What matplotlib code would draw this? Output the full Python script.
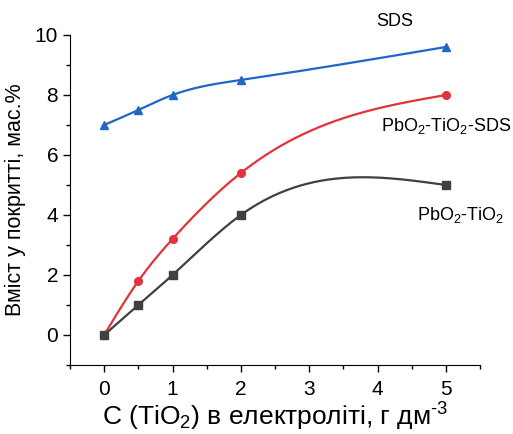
import numpy as np
import matplotlib
matplotlib.use('Agg')
import matplotlib.pyplot as plt
from matplotlib.ticker import MultipleLocator

plt.rcParams['font.family'] = ['Liberation Sans', 'DejaVu Sans']
plt.rcParams['mathtext.fontset'] = 'custom'
plt.rcParams['mathtext.rm'] = 'Liberation Sans'
plt.rcParams['mathtext.it'] = 'Liberation Sans'
plt.rcParams['mathtext.default'] = 'regular'

x = [0, 0.5, 1, 2, 5]
sds = [7.0, 7.5, 8.0, 8.5, 9.6]
pbo2_tio2_sds = [0.0, 1.8, 3.2, 5.4, 8.0]
pbo2_tio2 = [0.0, 1.0, 2.0, 4.0, 5.0]


def spline(xs, ys, n=200):
    # natural cubic spline, only used to draw the smooth connecting line
    xs = np.asarray(xs, float)
    ys = np.asarray(ys, float)
    k = len(xs)
    h = np.diff(xs)
    A = np.zeros((k, k))
    b = np.zeros(k)
    A[0, 0] = A[-1, -1] = 1
    for i in range(1, k - 1):
        A[i, i - 1] = h[i - 1]
        A[i, i] = 2 * (h[i - 1] + h[i])
        A[i, i + 1] = h[i]
        b[i] = 3 * ((ys[i + 1] - ys[i]) / h[i] - (ys[i] - ys[i - 1]) / h[i - 1])
    c = np.linalg.solve(A, b)
    xx = np.linspace(xs[0], xs[-1], n)
    idx = np.clip(np.searchsorted(xs, xx) - 1, 0, k - 2)
    dx = xx - xs[idx]
    bb = (ys[1:] - ys[:-1]) / h - h * (2 * c[:-1] + c[1:]) / 3
    dd = (c[1:] - c[:-1]) / (3 * h)
    yy = ys[idx] + bb[idx] * dx + c[idx] * dx ** 2 + dd[idx] * dx ** 3
    return xx, yy


fig = plt.figure(figsize=(5.13, 4.34), dpi=100)
ax = fig.add_axes([70 / 513, 1 - 365 / 434, 410 / 513, 330 / 434])

series = [
    (sds, '#2066c8', '^'),
    (pbo2_tio2_sds, '#e3323a', 'o'),
    (pbo2_tio2, '#404040', 's'),
]
for ys, col, mk in series:
    xx, yy = spline(x, ys)
    ax.plot(xx, yy, color=col, lw=1.6)
    ax.plot(x, ys, ls='none', marker=mk, color=col, ms=5.5)

ax.set_xlim(-0.5, 5.5)
ax.set_ylim(-1, 10)
ax.xaxis.set_major_locator(MultipleLocator(1))
ax.xaxis.set_minor_locator(MultipleLocator(0.5))
ax.yaxis.set_major_locator(MultipleLocator(2))
ax.yaxis.set_minor_locator(MultipleLocator(1))
ax.spines['top'].set_visible(False)
ax.spines['right'].set_visible(False)
ax.tick_params(which='major', direction='out', length=5, width=1, labelsize=15)
ax.tick_params(which='minor', direction='out', length=3, width=1)
ax.tick_params(axis='x', which='major', pad=6)

ax.set_xlabel('C (TiO$_2$) в електроліті, г дм$^{\u20103}$', fontsize=19, labelpad=1)
ax.set_ylabel('Вміст у покритті, мас.%', fontsize=15.5, labelpad=6)

ax.text(4.25, 10.45, 'SDS', ha='center', va='center', fontsize=13, clip_on=False)
ax.text(5.0, 6.95, 'PbO$_2$-TiO$_2$-SDS', ha='center', va='center', fontsize=13)
ax.text(5.21, 4.0, 'PbO$_2$-TiO$_2$', ha='center', va='center', fontsize=13)

fig.savefig('out.png', dpi=100)
